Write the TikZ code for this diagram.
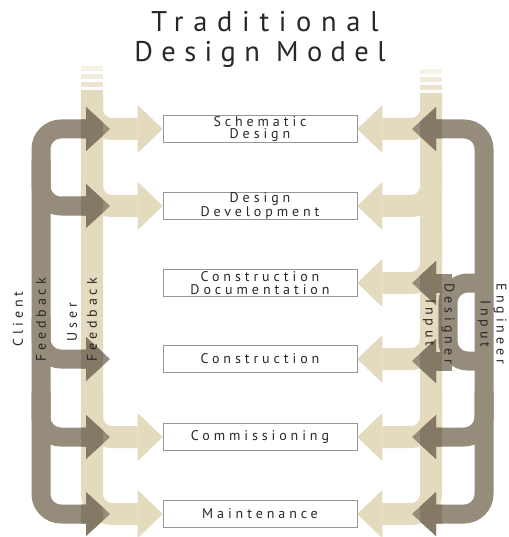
\documentclass[tikz,border=0pt]{standalone}
\usepackage{fontspec}
\setmainfont{PT Sans}
\newfontfamily\titlefont{PT Sans}[LetterSpace=34]
\newfontfamily\titlefontnarrow{PT Sans}[LetterSpace=29.5]
\newfontfamily\labelfont{PT Sans}[LetterSpace=28]
\usetikzlibrary{arrows.meta}

\definecolor{flowlight}{RGB}{228,218,190}
\definecolor{flowdark}{RGB}{150,140,124}
\definecolor{flowdeep}{RGB}{132,121,101}
\definecolor{ink}{RGB}{40,40,40}
\definecolor{boxline}{RGB}{150,150,150}

\tikzset{
  stage/.style={draw=boxline, line width=0.6pt, fill=white,
    minimum width=194pt, minimum height=27pt, inner sep=0pt,
    font=\labelfont\fontsize{14}{12.6}\selectfont, text=ink, align=center},
  lighthead/.style={-{Triangle[width=48pt,length=25pt,line width=0pt]}},
  darkhead/.style={-{Triangle[width=44pt,length=24pt,line width=0pt]}},
  bothheads/.style={{Triangle[width=44pt,length=24pt,line width=0pt]}-{Triangle[width=44pt,length=24pt,line width=0pt]}},
  lightflow/.style={draw=flowlight, line width=22pt, rounded corners=20pt, lighthead},
  darkflow/.style={draw=flowdark, line width=19pt, rounded corners=20pt},
  sidelabel/.style={font=\labelfont\fontsize{14}{14}\selectfont, text=ink, inner sep=0pt},
  titletext/.style={text=ink, anchor=base, inner sep=0pt},
}

% the client, engineer and designer streams
\newcommand\drawdarkflows{%
  \draw[darkflow, bothheads] (cf1) -- (cc1) -- (cc6) -- (cf6);
  \draw[darkflow, darkhead] (cb2) |- (cf2);
  \draw[darkflow, darkhead] (cb4) |- (cf4);
  \draw[darkflow, darkhead] (cb5) |- (cf5);
  \draw[darkflow, bothheads] (ce1) -- (ec1) -- (ec6) -- (ce6);
  \draw[darkflow, darkhead] (eb5) |- (ce5);
  \draw[darkflow] (dl3) -- (dk3) -- (dk4) -- (dl4);
  \draw[darkflow, darkhead, rounded corners=0pt] ([xshift=4pt]dk3) -- (de3);
  \draw[darkflow, darkhead, rounded corners=0pt] ([xshift=4pt]dk4) -- (de4);
}

\begin{document}
\begin{tikzpicture}[x=1pt,y=-1pt]
\useasboundingbox (0,0) rectangle (508,537);

% title
\node[titletext, font=\titlefont\fontsize{28.5}{30}\selectfont] (title1) at (265,32) {Traditional};
\node[titletext, font=\titlefontnarrow\fontsize{28.5}{30}\selectfont] (title2) at (260,62) {Design Model};

% project stages
\node[stage] (s1) at (260,129) {Schematic\\Design};
\node[stage] (s2) at (260,206) {Design\\Development};
\node[stage] (s3) at (260,283) {Construction\\Documentation};
\node[stage] (s4) at (260,359) {Construction};
\node[stage] (s5) at (260,437) {Commissioning};
\node[stage] (s6) at (260,514) {Maintenance};

% faded tops of the two light trunks
\foreach \yy/\op in {66/0.35,74/0.55,82/0.75}{
  \fill[flowlight, opacity=\op] (81,\yy) rectangle (103,\yy+5);
  \fill[flowlight, opacity=\op] (420,\yy+3) rectangle (442,\yy+8);
}

% user feedback (left light trunk)
\coordinate (ut)  at (92,90);
\coordinate (ub1) at (92,92);
\coordinate (ub2) at (92,161);
\coordinate (ub5) at (92,392);
\draw[lightflow] (ut) |- (s6.west);
\draw[lightflow] (ub1) |- (s1.west);
\draw[lightflow] (ub2) |- (s2.west);
\draw[lightflow] (ub5) |- (s5.west);

% designer side (right light trunk)
\coordinate (dt)  at (431,93);
\coordinate (db1) at (431,95);
\coordinate (db2) at (431,161);
\coordinate (db3) at (431,238);
\coordinate (db4) at (431,314);
\coordinate (db5) at (431,392);
\draw[lightflow] (dt) |- (s6.east);
\draw[lightflow] (db1) |- (s1.east);
\draw[lightflow] (db2) |- (s2.east);
\draw[lightflow] (db3) |- (s3.east);
\draw[lightflow] (db4) |- (s4.east);
\draw[lightflow] (db5) |- (s5.east);

% stream end points and bends
\coordinate (cf1) at (110,129);
\coordinate (cf2) at (110,206);
\coordinate (cf4) at (110,359);
\coordinate (cf5) at (110,437);
\coordinate (cf6) at (110,514);
\coordinate (cc1) at (41,129);
\coordinate (cc6) at (41,514);
\coordinate (cb2) at (41,160);
\coordinate (cb4) at (41,318);
\coordinate (cb5) at (41,391);
\coordinate (ce1) at (412,129);
\coordinate (ce5) at (412,437);
\coordinate (ce6) at (412,514);
\coordinate (ec1) at (484,129);
\coordinate (ec6) at (484,514);
\coordinate (eb5) at (484,391);
\coordinate (dl3) at (484,283);
\coordinate (dl4) at (484,361);
\coordinate (dk3) at (448,283);
\coordinate (dk4) at (448,361);
\coordinate (de3) at (412,283);
\coordinate (de4) at (412,361);

\drawdarkflows

% where the dark streams cross the light trunks the tone deepens
\begin{scope}[darkflow/.append style={draw=flowdeep}]
  \begin{scope}
    \clip (81,92) rectangle (103,537);
    \drawdarkflows
  \end{scope}
  \begin{scope}
    \clip (420,92) rectangle (442,537);
    \drawdarkflows
  \end{scope}
\end{scope}

% trunk labels
\node[sidelabel, rotate=90] (lclient) at (18,319) {Client};
\node[sidelabel, rotate=90] (lcfb) at (41,320) {Feedback};
\node[sidelabel, rotate=90] (luser) at (72,322) {User};
\node[sidelabel, rotate=90] (lufb) at (92,320) {Feedback};
\node[sidelabel, rotate=-90] (leng) at (500,324) {Engineer};
\node[sidelabel, rotate=-90] (lein) at (484,324) {Input};
\node[sidelabel, rotate=-90] (ldes) at (448,324) {Designer};
\node[sidelabel, rotate=-90] (ldin) at (429,323) {Input};
\end{tikzpicture}
\end{document}
